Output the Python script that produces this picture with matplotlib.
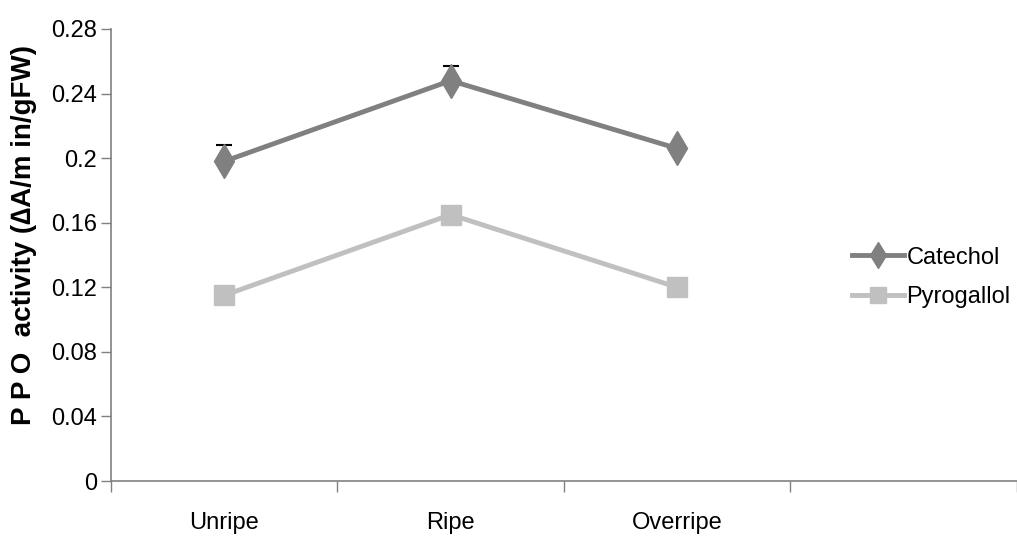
import matplotlib.pyplot as plt
from matplotlib.lines import Line2D

# data
stages = ["Unripe", "Ripe", "Overripe"]
catechol = [0.198, 0.248, 0.206]
catechol_err = [0.010, 0.009, 0.002]
pyrogallol = [0.115, 0.165, 0.120]
pyrogallol_err = [0.003, 0.003, 0.002]
y_ticks = [0, 0.04, 0.08, 0.12, 0.16, 0.2, 0.24, 0.28]
y_tick_labels = ["0", "0.04", "0.08", "0.12", "0.16", "0.2", "0.24", "0.28"]

font = "Liberation Sans"
dark = "#808080"
light = "#c0c0c0"

fig = plt.figure(figsize=(10.17, 5.39), dpi=100)
ax = fig.add_axes([0.109, 0.1076, 0.891, 0.8386])

x = list(range(len(stages)))

ax.errorbar(x, catechol, yerr=[[0] * 3, catechol_err], color=dark,
            ecolor="black", elinewidth=1.2, capsize=6, capthick=1.5,
            linewidth=3.5, marker="d", markersize=17, zorder=3)
ax.errorbar(x, pyrogallol, yerr=[[0] * 3, pyrogallol_err], color=light,
            ecolor="black", elinewidth=1.2, capsize=6, capthick=1.5,
            linewidth=3.5, marker="s", markersize=14, zorder=3)

ax.set_xlim(-0.5, 3.5)
ax.set_ylim(0, 0.28)

ax.set_xticks(x)
ax.set_xticklabels(stages, fontfamily=font, fontsize=17)
ax.set_xticks([-0.5, 0.5, 1.5, 2.5, 3.5], minor=True)
ax.tick_params(axis="x", which="major", length=0, pad=22)
ax.tick_params(axis="x", which="minor", length=8, width=1, color=dark, direction="out")

ax.set_yticks(y_ticks)
ax.set_yticklabels(y_tick_labels, fontfamily=font, fontsize=17)
ax.tick_params(axis="y", length=7, width=1, color=dark, direction="out", pad=3)

for side in ["top", "right"]:
    ax.spines[side].set_visible(False)
for side in ["left", "bottom"]:
    ax.spines[side].set_color(dark)
    ax.spines[side].set_linewidth(1.2)

ax.set_ylabel("P P O  activity (\u2206A/m in/gFW)", fontsize=20,
              fontweight="bold", fontfamily=font)
ax.yaxis.set_label_coords(-0.081, 0.545)

handles = [
    Line2D([], [], color=dark, linewidth=3.5, marker="d", markersize=13),
    Line2D([], [], color=light, linewidth=3.5, marker="s", markersize=11),
]
ax.legend(handles, ["Catechol", "Pyrogallol"], loc="center left",
          bbox_to_anchor=(0.818, 0.45), frameon=False, borderaxespad=0,
          borderpad=0, prop={"family": font, "size": 17}, handlelength=2.2,
          handletextpad=0.1, labelspacing=0.75)

fig.savefig("out.png", dpi=100)
